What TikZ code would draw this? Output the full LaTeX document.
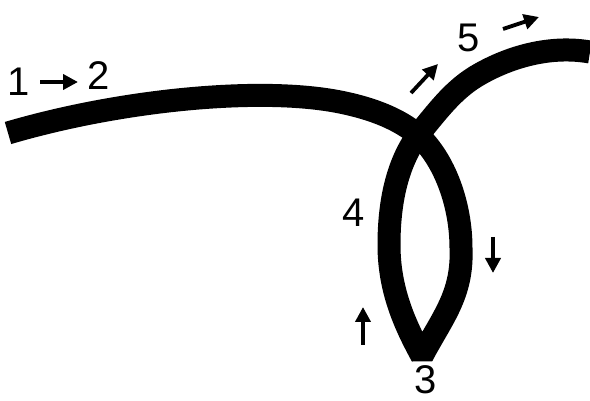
\documentclass[tikz,border=0pt]{standalone}
\usepackage{fontspec}
\setmainfont{Liberation Sans}
\usetikzlibrary{arrows.meta}

\begin{document}
\begin{tikzpicture}[
  x=0.5pt, y=-0.5pt,
  ribbon/.style={line width=11.5pt,line join=bevel,line cap=butt},
  flowarrow/.style={line width=1.9pt,-{Triangle[length=7.5pt,width=7.5pt]}},
  numlabel/.style={inner sep=0pt,font=\fontsize{20}{24}\selectfont}
]
  \useasboundingbox (0,0) rectangle (590,401);
  % the strand: 1-2, crossing, down to 3, up by 4, crossing, out to 5
  \draw[ribbon] (8,133) .. controls (120,100) and (260,86) .. (340,102)
    .. controls (375,109) and (400,120) .. (418,135)
    .. controls (445,160) and (461,205) .. (461,248)
    .. controls (463,295) and (442,318) .. (422,356)
    .. controls (405,325) and (389,290) .. (389,245)
    .. controls (389,195) and (400,160) .. (418,135)
    .. controls (440,108) and (455,88) .. (480,74)
    .. controls (510,57) and (550,45) .. (590,52);
  % labels
  \foreach \n/\x/\y in {1/19/82, 2/99/76, 3/426/380, 4/354/213, 5/469/38}
    \node[numlabel] (lab\n) at (\x,\y) {\n};
  % direction marks
  \foreach \xa/\ya/\xb/\yb [count=\i] in {40/82/78/82, 411/93/438/64, 503/29/539/17, 493/237/493/273, 363/345/363/307}{
    \coordinate (tail\i) at (\xa,\ya);
    \coordinate (head\i) at (\xb,\yb);
    \draw[flowarrow] (tail\i) -- (head\i);
  }
\end{tikzpicture}
\end{document}
